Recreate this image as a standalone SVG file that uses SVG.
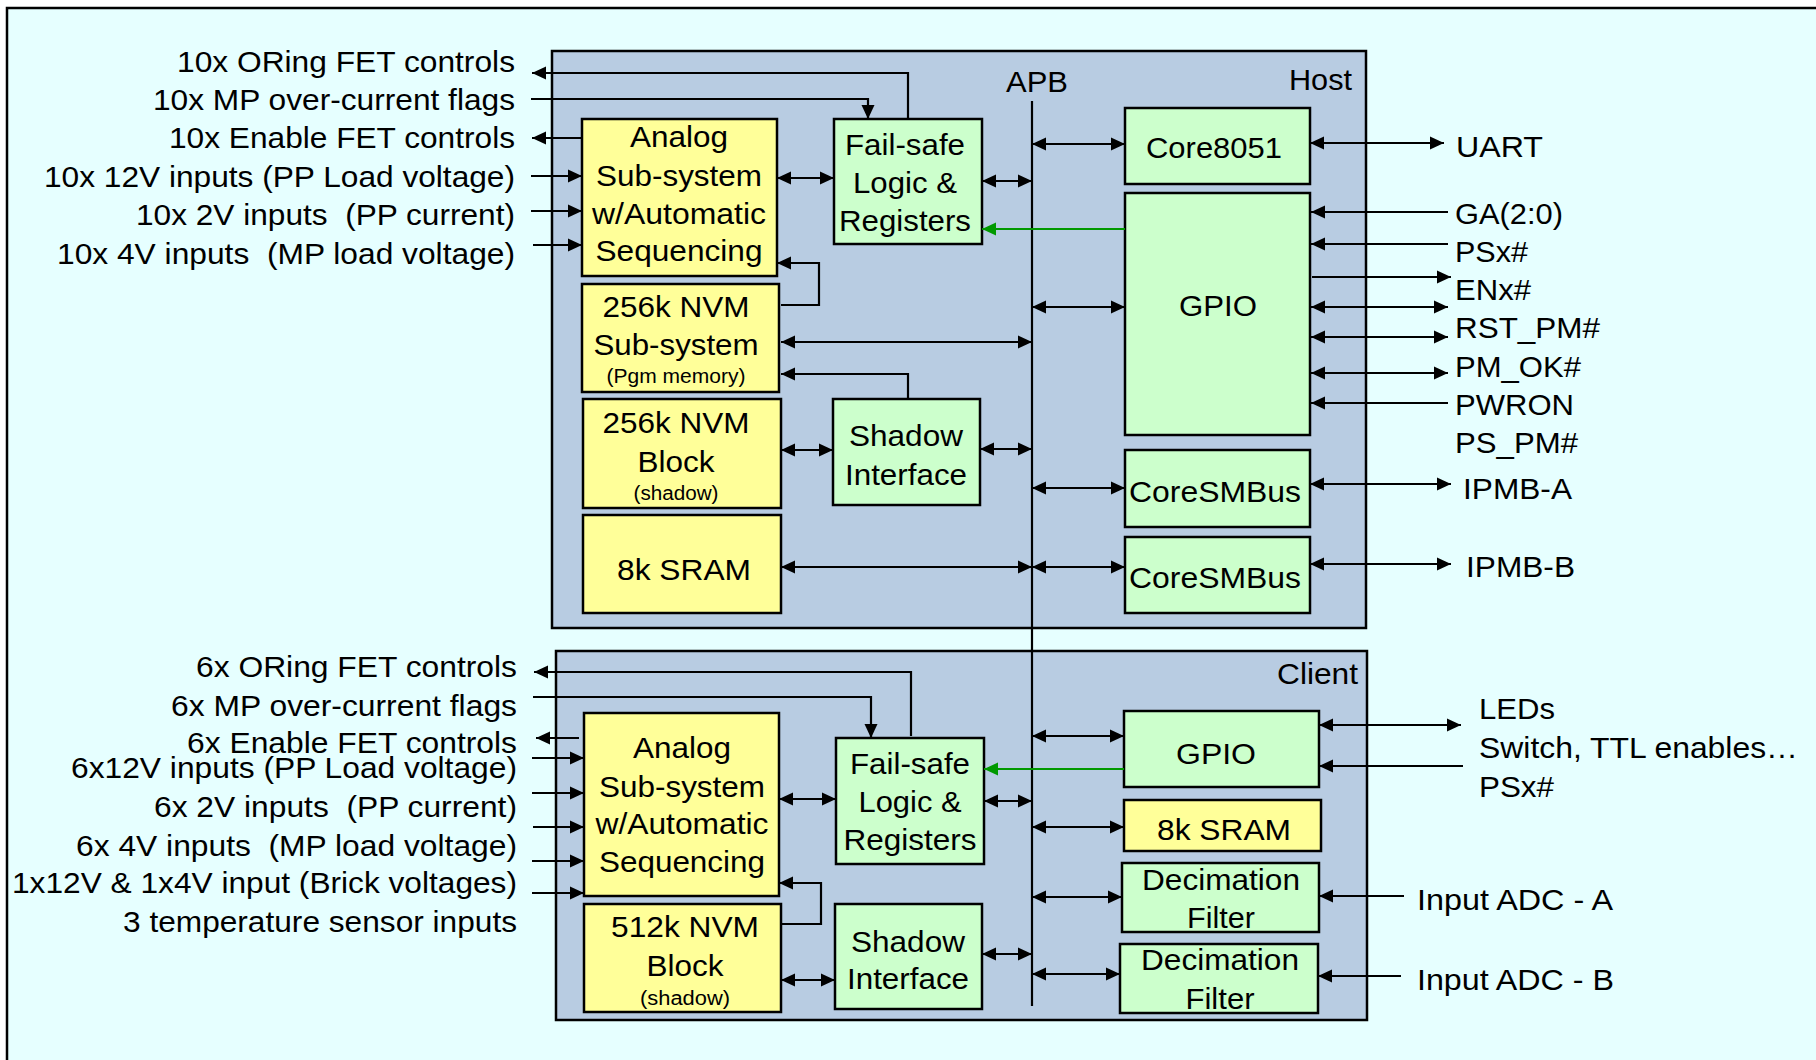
<svg xmlns="http://www.w3.org/2000/svg" width="1816" height="1060" viewBox="0 0 1816 1060">
<style>
.t{font-family:"Liberation Sans",Arial,Helvetica,sans-serif;font-size:29px;fill:#000}
.s{font-size:20px}
.m{text-anchor:middle}
.e{text-anchor:end}
.blk{fill:#B8CCE2;stroke:#000;stroke-width:2.5}
.y{fill:#FFFF99;stroke:#000;stroke-width:2.5}
.g{fill:#CCFFCC;stroke:#000;stroke-width:2.5}
.c{fill:none;stroke:#000;stroke-width:2.2}
.gr{fill:none;stroke:#009900;stroke-width:2}
.a{marker-end:url(#ah)}
.b{marker-start:url(#ah);marker-end:url(#ah)}
</style>
<defs>
<marker id="ah" viewBox="0 0 14 14" refX="14" refY="7" markerWidth="14" markerHeight="14" markerUnits="userSpaceOnUse" orient="auto-start-reverse"><path d="M0,0.5 L14,7 L0,13.5 z" fill="#000"/></marker>
<marker id="ahg" viewBox="0 0 14 14" refX="14" refY="7" markerWidth="14" markerHeight="14" markerUnits="userSpaceOnUse" orient="auto-start-reverse"><path d="M0,0.5 L14,7 L0,13.5 z" fill="#009900"/></marker>
</defs>
<rect x="0" y="0" width="1816" height="1060" fill="#ffffff"/>
<rect x="7" y="8" width="1840" height="1080" fill="#E6FFFF" stroke="#000" stroke-width="2.5"/>

<g id="host">
<rect class="blk" x="552" y="51" width="814" height="577"/>
<text class="t e" x="1352" y="90" textLength="63" lengthAdjust="spacingAndGlyphs">Host</text>
</g>
<g id="client">
<rect class="blk" x="556" y="651" width="811" height="369"/>
<text class="t e" x="1358" y="684" textLength="81" lengthAdjust="spacingAndGlyphs">Client</text>
</g>

<g id="host-left-labels">
<text class="t e" x="515" y="72" textLength="338" lengthAdjust="spacingAndGlyphs">10x ORing FET controls</text>
<text class="t e" x="515" y="110" textLength="362" lengthAdjust="spacingAndGlyphs">10x MP over-current flags</text>
<text class="t e" x="515" y="148" textLength="346" lengthAdjust="spacingAndGlyphs">10x Enable FET controls</text>
<text class="t e" x="515" y="187" textLength="471" lengthAdjust="spacingAndGlyphs">10x 12V inputs (PP Load voltage)</text>
<text class="t e" x="515" y="225" textLength="379" lengthAdjust="spacingAndGlyphs" xml:space="preserve">10x 2V inputs  (PP current)</text>
<text class="t e" x="515" y="264" textLength="458" lengthAdjust="spacingAndGlyphs" xml:space="preserve">10x 4V inputs  (MP load voltage)</text>
</g>

<g id="host-analog">
<rect class="y" x="582" y="119" width="195" height="157"/>
<text class="t m" x="679" y="147" textLength="98" lengthAdjust="spacingAndGlyphs">Analog</text>
<text class="t m" x="679" y="186" textLength="166" lengthAdjust="spacingAndGlyphs">Sub-system</text>
<text class="t m" x="679" y="224" textLength="174" lengthAdjust="spacingAndGlyphs">w/Automatic</text>
<text class="t m" x="679" y="261" textLength="167" lengthAdjust="spacingAndGlyphs">Sequencing</text>
</g>
<g id="host-failsafe">
<rect class="g" x="834" y="119" width="148" height="125"/>
<text class="t m" x="905" y="155" textLength="120" lengthAdjust="spacingAndGlyphs">Fail-safe</text>
<text class="t m" x="905" y="193" textLength="104" lengthAdjust="spacingAndGlyphs">Logic &amp;</text>
<text class="t m" x="905" y="231" textLength="132" lengthAdjust="spacingAndGlyphs">Registers</text>
</g>
<g id="host-nvm-sub">
<rect class="y" x="582" y="284" width="197" height="108"/>
<text class="t m" x="676" y="317" textLength="147" lengthAdjust="spacingAndGlyphs">256k NVM</text>
<text class="t m" x="676" y="355" textLength="165" lengthAdjust="spacingAndGlyphs">Sub-system</text>
<text class="t s m" x="676" y="383" textLength="139" lengthAdjust="spacingAndGlyphs">(Pgm memory)</text>
</g>
<g id="host-nvm-block">
<rect class="y" x="583" y="399" width="198" height="109"/>
<text class="t m" x="676" y="433" textLength="147" lengthAdjust="spacingAndGlyphs">256k NVM</text>
<text class="t m" x="676" y="472" textLength="77" lengthAdjust="spacingAndGlyphs">Block</text>
<text class="t s m" x="676" y="500" textLength="85" lengthAdjust="spacingAndGlyphs">(shadow)</text>
</g>
<g id="host-shadow">
<rect class="g" x="833" y="399" width="147" height="106"/>
<text class="t m" x="906" y="446" textLength="114" lengthAdjust="spacingAndGlyphs">Shadow</text>
<text class="t m" x="906" y="485" textLength="122" lengthAdjust="spacingAndGlyphs">Interface</text>
</g>
<g id="host-sram">
<rect class="y" x="583" y="515" width="198" height="98"/>
<text class="t m" x="684" y="580" textLength="134" lengthAdjust="spacingAndGlyphs">8k SRAM</text>
</g>
<g id="apb-label">
<text class="t m" x="1037" y="92" textLength="62" lengthAdjust="spacingAndGlyphs">APB</text>
</g>
<g id="host-core8051">
<rect class="g" x="1125" y="108" width="185" height="76"/>
<text class="t m" x="1214" y="158" textLength="136" lengthAdjust="spacingAndGlyphs">Core8051</text>
</g>
<g id="host-gpio">
<rect class="g" x="1125" y="193" width="185" height="242"/>
<text class="t m" x="1218" y="316" textLength="78" lengthAdjust="spacingAndGlyphs">GPIO</text>
</g>
<g id="host-smbus-a">
<rect class="g" x="1125" y="450" width="185" height="77"/>
<text class="t m" x="1215" y="502" textLength="172" lengthAdjust="spacingAndGlyphs">CoreSMBus</text>
</g>
<g id="host-smbus-b">
<rect class="g" x="1125" y="537" width="185" height="76"/>
<text class="t m" x="1215" y="588" textLength="172" lengthAdjust="spacingAndGlyphs">CoreSMBus</text>
</g>
<g id="host-right-labels">
<text class="t" x="1456" y="157" textLength="87" lengthAdjust="spacingAndGlyphs">UART</text>
<text class="t" x="1455" y="224" textLength="108" lengthAdjust="spacingAndGlyphs">GA(2:0)</text>
<text class="t" x="1455" y="262" textLength="73" lengthAdjust="spacingAndGlyphs">PSx#</text>
<text class="t" x="1455" y="300" textLength="76" lengthAdjust="spacingAndGlyphs">ENx#</text>
<text class="t" x="1455" y="338" textLength="145" lengthAdjust="spacingAndGlyphs">RST_PM#</text>
<text class="t" x="1455" y="377" textLength="126" lengthAdjust="spacingAndGlyphs">PM_OK#</text>
<text class="t" x="1455" y="415" textLength="119" lengthAdjust="spacingAndGlyphs">PWRON</text>
<text class="t" x="1455" y="453" textLength="123" lengthAdjust="spacingAndGlyphs">PS_PM#</text>
<text class="t" x="1463" y="499" textLength="109" lengthAdjust="spacingAndGlyphs">IPMB-A</text>
<text class="t" x="1466" y="577" textLength="109" lengthAdjust="spacingAndGlyphs">IPMB-B</text>
</g>

<g id="client-left-labels">
<text class="t e" x="517" y="677" textLength="321" lengthAdjust="spacingAndGlyphs">6x ORing FET controls</text>
<text class="t e" x="517" y="716" textLength="346" lengthAdjust="spacingAndGlyphs">6x MP over-current flags</text>
<text class="t e" x="517" y="753" textLength="330" lengthAdjust="spacingAndGlyphs">6x Enable FET controls</text>
<text class="t e" x="517" y="778" textLength="446" lengthAdjust="spacingAndGlyphs">6x12V inputs (PP Load voltage)</text>
<text class="t e" x="517" y="817" textLength="363" lengthAdjust="spacingAndGlyphs" xml:space="preserve">6x 2V inputs  (PP current)</text>
<text class="t e" x="517" y="856" textLength="441" lengthAdjust="spacingAndGlyphs" xml:space="preserve">6x 4V inputs  (MP load voltage)</text>
<text class="t e" x="517" y="893" textLength="505" lengthAdjust="spacingAndGlyphs">1x12V &amp; 1x4V input (Brick voltages)</text>
<text class="t e" x="517" y="932" textLength="394" lengthAdjust="spacingAndGlyphs">3 temperature sensor inputs</text>
</g>

<g id="client-analog">
<rect class="y" x="584" y="713" width="195" height="183"/>
<text class="t m" x="682" y="758" textLength="98" lengthAdjust="spacingAndGlyphs">Analog</text>
<text class="t m" x="682" y="797" textLength="166" lengthAdjust="spacingAndGlyphs">Sub-system</text>
<text class="t m" x="682" y="834" textLength="173" lengthAdjust="spacingAndGlyphs">w/Automatic</text>
<text class="t m" x="682" y="872" textLength="166" lengthAdjust="spacingAndGlyphs">Sequencing</text>
</g>
<g id="client-failsafe">
<rect class="g" x="836" y="738" width="148" height="126"/>
<text class="t m" x="910" y="774" textLength="120" lengthAdjust="spacingAndGlyphs">Fail-safe</text>
<text class="t m" x="910" y="812" textLength="103" lengthAdjust="spacingAndGlyphs">Logic &amp;</text>
<text class="t m" x="910" y="850" textLength="133" lengthAdjust="spacingAndGlyphs">Registers</text>
</g>
<g id="client-nvm-block">
<rect class="y" x="584" y="904" width="197" height="108"/>
<text class="t m" x="685" y="937" textLength="148" lengthAdjust="spacingAndGlyphs">512k NVM</text>
<text class="t m" x="685" y="976" textLength="77" lengthAdjust="spacingAndGlyphs">Block</text>
<text class="t s m" x="685" y="1005" textLength="90" lengthAdjust="spacingAndGlyphs">(shadow)</text>
</g>
<g id="client-shadow">
<rect class="g" x="835" y="904" width="147" height="105"/>
<text class="t m" x="908" y="952" textLength="114" lengthAdjust="spacingAndGlyphs">Shadow</text>
<text class="t m" x="908" y="989" textLength="122" lengthAdjust="spacingAndGlyphs">Interface</text>
</g>
<g id="client-gpio">
<rect class="g" x="1124" y="711" width="195" height="76"/>
<text class="t m" x="1216" y="764" textLength="80" lengthAdjust="spacingAndGlyphs">GPIO</text>
</g>
<g id="client-sram">
<rect class="y" x="1124" y="800" width="197" height="51"/>
<text class="t m" x="1224" y="840" textLength="134" lengthAdjust="spacingAndGlyphs">8k SRAM</text>
</g>
<g id="client-dec-a">
<rect class="g" x="1122" y="863" width="197" height="69"/>
<text class="t m" x="1221" y="890" textLength="158" lengthAdjust="spacingAndGlyphs">Decimation</text>
<text class="t m" x="1221" y="928" textLength="68" lengthAdjust="spacingAndGlyphs">Filter</text>
</g>
<g id="client-dec-b">
<rect class="g" x="1120" y="944" width="198" height="69"/>
<text class="t m" x="1220" y="970" textLength="158" lengthAdjust="spacingAndGlyphs">Decimation</text>
<text class="t m" x="1220" y="1009" textLength="69" lengthAdjust="spacingAndGlyphs">Filter</text>
</g>
<g id="client-right-labels">
<text class="t" x="1479" y="719" textLength="76" lengthAdjust="spacingAndGlyphs">LEDs</text>
<text class="t" x="1479" y="758" textLength="319" lengthAdjust="spacingAndGlyphs">Switch, TTL enables…</text>
<text class="t" x="1479" y="797" textLength="75" lengthAdjust="spacingAndGlyphs">PSx#</text>
<text class="t" x="1417" y="910" textLength="196" lengthAdjust="spacingAndGlyphs">Input ADC - A</text>
<text class="t" x="1417" y="990" textLength="197" lengthAdjust="spacingAndGlyphs">Input ADC - B</text>
</g>

<g id="connectors">
<path class="c" d="M1032,101 V1006"/>
<!-- host -->
<path class="c a" d="M908,119 V73 H532"/>
<path class="c a" d="M531,99 H868 V119"/>
<path class="c a" d="M582,138 H532"/>
<path class="c a" d="M531,176 H582"/>
<path class="c a" d="M531,211 H582"/>
<path class="c a" d="M533,245 H582"/>
<path class="c b" d="M777,178 H834"/>
<path class="c b" d="M982,181 H1032"/>
<path class="gr" d="M1125,229 H982" marker-end="url(#ahg)"/>
<path class="c b" d="M1032,144 H1125"/>
<path class="c b" d="M1310,143 H1444"/>
<path class="c b" d="M1032,307 H1125"/>
<path class="c a" d="M1448,212 H1311"/>
<path class="c a" d="M1448,244 H1311"/>
<path class="c a" d="M1312,277 H1451"/>
<path class="c b" d="M1311,307 H1448"/>
<path class="c b" d="M1311,337 H1448"/>
<path class="c b" d="M1311,373 H1448"/>
<path class="c a" d="M1448,403 H1311"/>
<path class="c a" d="M781,305 H819 V263 H777"/>
<path class="c b" d="M781,342 H1032"/>
<path class="c a" d="M908,399 V374 H781"/>
<path class="c b" d="M781,450 H833"/>
<path class="c b" d="M980,449 H1032"/>
<path class="c b" d="M1032,488 H1125"/>
<path class="c b" d="M781,567 H1032"/>
<path class="c b" d="M1032,567 H1125"/>
<path class="c b" d="M1310,484 H1451"/>
<path class="c b" d="M1310,564 H1451"/>
<!-- client -->
<path class="c a" d="M911,736 V672 H534"/>
<path class="c a" d="M533,697 H871 V738"/>
<path class="c a" d="M579,738 H536"/>
<path class="c a" d="M532,758 H584"/>
<path class="c a" d="M532,793 H584"/>
<path class="c a" d="M533,827 H584"/>
<path class="c a" d="M532,861 H584"/>
<path class="c a" d="M532,893 H584"/>
<path class="c b" d="M779,799 H836"/>
<path class="gr" d="M1124,769 H984" marker-end="url(#ahg)"/>
<path class="c b" d="M984,801 H1032"/>
<path class="c a" d="M782,924 H821 V883 H779"/>
<path class="c b" d="M781,980 H835"/>
<path class="c b" d="M982,954 H1032"/>
<path class="c b" d="M1032,736 H1124"/>
<path class="c b" d="M1032,827 H1124"/>
<path class="c b" d="M1032,897 H1122"/>
<path class="c b" d="M1032,974 H1120"/>
<path class="c b" d="M1319,725 H1461"/>
<path class="c a" d="M1463,766 H1319"/>
<path class="c a" d="M1404,896 H1319"/>
<path class="c a" d="M1401,976 H1318"/>
</g>
</svg>
